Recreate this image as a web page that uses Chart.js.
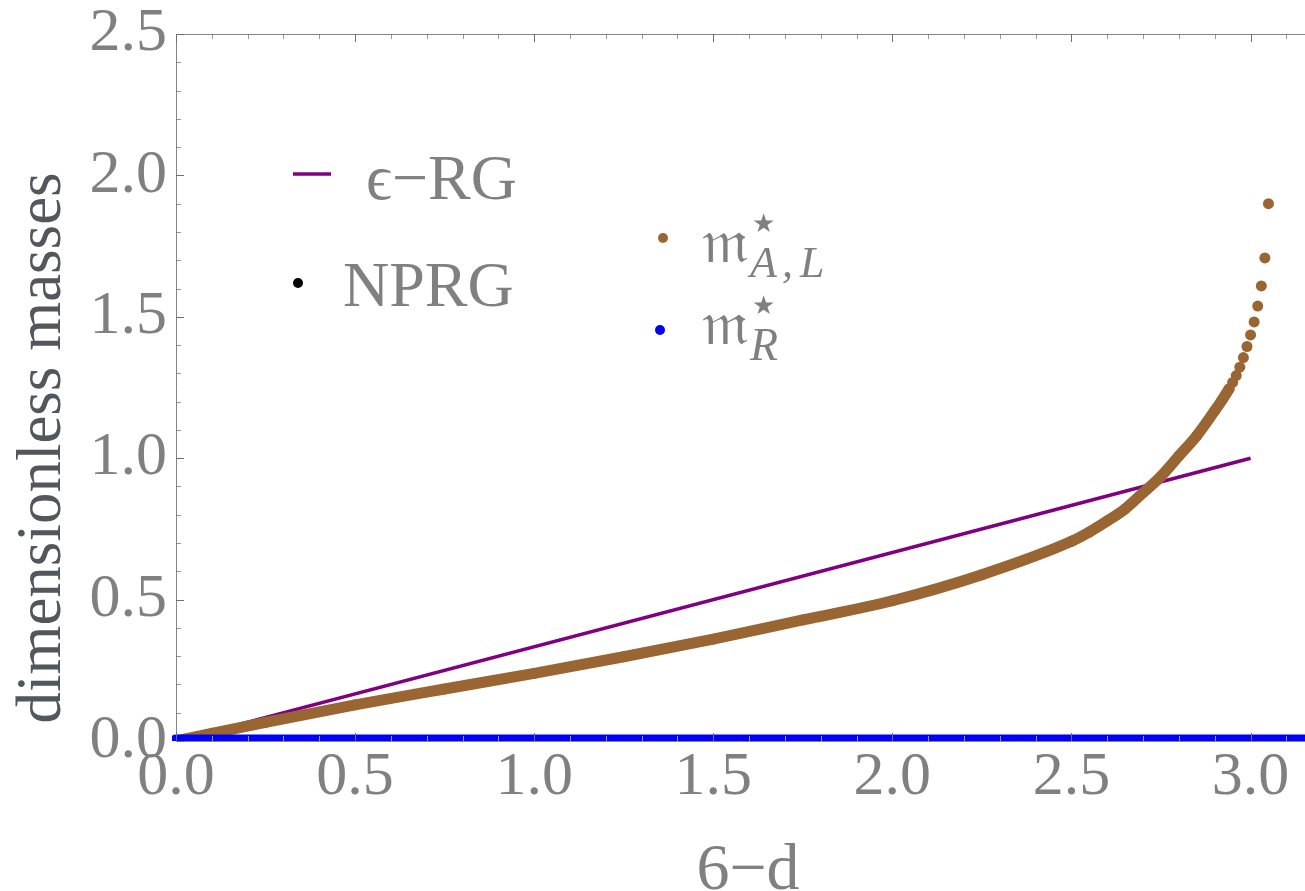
<!DOCTYPE html>
<html>
<head>
<meta charset="utf-8">
<script src="https://cdn.jsdelivr.net/npm/chart.js@4.4.1/dist/chart.umd.min.js"></script>
<style>
  html, body { margin: 0; padding: 0; background: #fff; overflow: hidden; }
  canvas { display: block; }
</style>
</head>
<body>
<canvas id="chart" width="1305" height="891"></canvas>
<script>
// tick labels
const xTicks = [0.0, 0.5, 1.0, 1.5, 2.0, 2.5, 3.0];
const yTicks = [0.0, 0.5, 1.0, 1.5, 2.0, 2.5];

// epsilon-RG straight line
const epsX = [0, 3.0];
const epsY = [0, 1.0];

// NPRG masses m*_{A,L}
const mALx = [0, 0.1, 0.25, 0.5, 0.75, 1.0, 1.25, 1.5, 1.75, 2.0, 2.25, 2.5, 2.55, 2.6, 2.65, 2.7, 2.75, 2.8, 2.85, 2.9, 2.92,
              2.94, 2.95, 2.96, 2.97, 2.98, 2.99, 3.0, 3.01, 3.02, 3.03, 3.04, 3.05];
const mALy = [0, 0.027, 0.066, 0.128, 0.184, 0.239, 0.298, 0.360, 0.428, 0.496, 0.588, 0.706, 0.739, 0.778, 0.821, 0.878, 0.936, 1.008, 1.080, 1.168, 1.205,
              1.245, 1.268, 1.292, 1.322, 1.356, 1.395, 1.436, 1.482, 1.538, 1.609, 1.708, 1.900];

// NPRG masses m*_R (all zero)
const mRx = [0, 3.16];
const mRy = [0, 0];

const GRAY = '#808080';
const SERIF = '"Liberation Serif", "DejaVu Serif", serif';
const BROWN = '#996633';
const PURPLE = '#800080';
const BLUE = '#0000ff';

function pts(xs, ys) { return xs.map((x, i) => ({ x: x, y: ys[i] })); }

const frame = {
    id: 'frame',
    afterDatasetsDraw(chart) {
        const { ctx, chartArea: a, scales: { x, y } } = chart;
        ctx.save();
        // inward ticks, minor every 0.1
        for (let i = 0; i <= 31; i++) {
            const px = Math.round(x.getPixelForValue(i / 10)) + 0.5;
            const major = i % 5 === 0;
            const len = major ? 8 : 5;
            ctx.strokeStyle = major ? '#6e6e6e' : '#9a9a9a';
            ctx.lineWidth = 1;
            ctx.beginPath();
            ctx.moveTo(px, a.bottom); ctx.lineTo(px, a.bottom - len);
            ctx.moveTo(px, a.top); ctx.lineTo(px, a.top + len);
            ctx.stroke();
        }
        for (let i = 0; i <= 25; i++) {
            const py = Math.round(y.getPixelForValue(i / 10)) + 0.5;
            const major = i % 5 === 0;
            ctx.strokeStyle = major ? '#6e6e6e' : '#9a9a9a';
            ctx.beginPath();
            ctx.moveTo(a.left, py); ctx.lineTo(a.left + (major ? 8 : 5), py);
            ctx.stroke();
        }
        // frame
        ctx.strokeStyle = 'rgba(110,110,110,0.85)';
        ctx.beginPath();
        ctx.moveTo(a.left + 0.5, a.top); ctx.lineTo(a.left + 0.5, a.bottom);
        ctx.moveTo(a.left, a.bottom + 0.5); ctx.lineTo(a.right, a.bottom + 0.5);
        ctx.moveTo(a.left, a.top + 0.5); ctx.lineTo(a.right, a.top + 0.5);
        ctx.stroke();
        ctx.restore();
    },
    afterDraw(chart) {
        const { ctx } = chart;
        ctx.save();
        // axis titles
        ctx.fillStyle = '#52575e';
        ctx.font = '63px ' + SERIF;
        ctx.textAlign = 'center';
        ctx.textBaseline = 'alphabetic';
        ctx.translate(60, 448);
        ctx.rotate(-Math.PI / 2);
        ctx.fillText('dimensionless masses', 0, 0);
        ctx.setTransform(1, 0, 0, 1, 0, 0);
        ctx.fillStyle = GRAY;
        ctx.font = '66px ' + SERIF;
        ctx.fillText('6\u2212d', 748, 889);

        // legend
        ctx.textAlign = 'left';
        ctx.strokeStyle = PURPLE;
        ctx.lineWidth = 3.5;
        ctx.beginPath(); ctx.moveTo(293, 174); ctx.lineTo(331, 174); ctx.stroke();
        ctx.fillStyle = GRAY;
        ctx.font = '64px ' + SERIF;
        ctx.fillText('\u03f5\u2212RG', 366, 199);
        ctx.fillText('NPRG', 343, 306);

        ctx.fillStyle = '#000';
        ctx.beginPath(); ctx.arc(298, 283, 5, 0, 2 * Math.PI); ctx.fill();
        ctx.fillStyle = BROWN;
        ctx.beginPath(); ctx.arc(663, 238, 5, 0, 2 * Math.PI); ctx.fill();
        ctx.fillStyle = BLUE;
        ctx.beginPath(); ctx.arc(660, 330, 5, 0, 2 * Math.PI); ctx.fill();

        ctx.fillStyle = GRAY;
        ctx.font = '62px ' + SERIF;
        ctx.fillText('\ud835\udd2a', 702, 262);
        ctx.fillText('\ud835\udd2a', 702, 344);
        ctx.font = '26px ' + SERIF;
        ctx.fillText('\u2605', 752, 232);
        ctx.fillText('\u2605', 752, 314);
        ctx.font = 'italic 44px ' + SERIF;
        ctx.fillText('A', 750, 277);
        ctx.fillText(',', 782, 277);
        ctx.fillText('L', 800, 277);
        ctx.font = 'italic 46px ' + SERIF;
        ctx.fillText('R', 750, 360);
        ctx.restore();
    }
};

function draw() {
    new Chart(document.getElementById('chart'), {
        type: 'scatter',
        data: {
            datasets: [
                {
                    data: pts(mRx, mRy),
                    showLine: true,
                    borderColor: BLUE,
                    borderWidth: 13,
                    borderCapStyle: 'round',
                    pointRadius: 0,
                    clip: { left: 4, top: 0, right: 0, bottom: 0 },
                    order: 0
                },
                {
                    data: pts(mALx, mALy),
                    showLine: true,
                    cubicInterpolationMode: 'monotone',
                    borderColor: BROWN,
                    borderWidth: 11,
                    borderJoinStyle: 'round',
                    borderCapStyle: 'round',
                    pointRadius: 5.5,
                    pointBorderWidth: 0,
                    pointBackgroundColor: BROWN,
                    segment: {
                        borderColor: c => c.p0.parsed.x >= 2.935 ? 'rgba(0,0,0,0)' : undefined
                    },
                    clip: { left: 4, top: 0, right: 0, bottom: 0 },
                    order: 1
                },
                {
                    data: pts(epsX, epsY),
                    showLine: true,
                    borderColor: PURPLE,
                    borderWidth: 3.5,
                    pointRadius: 0,
                    order: 2
                }
            ]
        },
        options: {
            responsive: false,
            animation: false,
            layout: { autoPadding: false, padding: { top: 34, right: 0, left: 0, bottom: 0 } },
            plugins: { legend: { display: false }, tooltip: { enabled: false } },
            scales: {
                x: {
                    type: 'linear',
                    min: 0,
                    max: 3.152,
                    afterBuildTicks: s => { s.ticks = xTicks.map(v => ({ value: v })); },
                    afterFit: s => { s.height = 150; s.paddingLeft = 0; s.paddingRight = 0; },
                    grid: { display: false, drawTicks: false },
                    border: { display: false },
                    ticks: {
                        color: GRAY,
                        font: { family: SERIF, size: 62 },
                        padding: 0,
                        maxRotation: 0,
                        autoSkip: false,
                        callback: v => v.toFixed(1)
                    }
                },
                y: {
                    type: 'linear',
                    min: 0,
                    max: 2.5,
                    afterBuildTicks: s => { s.ticks = yTicks.map(v => ({ value: v })); },
                    afterFit: s => { s.width = 176; s.paddingTop = 0; s.paddingBottom = 0; },
                    grid: { display: false, drawTicks: false },
                    border: { display: false },
                    ticks: {
                        color: GRAY,
                        font: { family: SERIF, size: 62 },
                        padding: 9,
                        autoSkip: false,
                        callback: v => v.toFixed(1)
                    }
                }
            }
        },
        plugins: [frame]
    });
}

Promise.all([
    document.fonts.load('62px "Liberation Serif"'),
    document.fonts.load('italic 44px "Liberation Serif"'),
    document.fonts.load('62px "DejaVu Serif"')
]).then(draw, draw);
</script>
</body>
</html>
